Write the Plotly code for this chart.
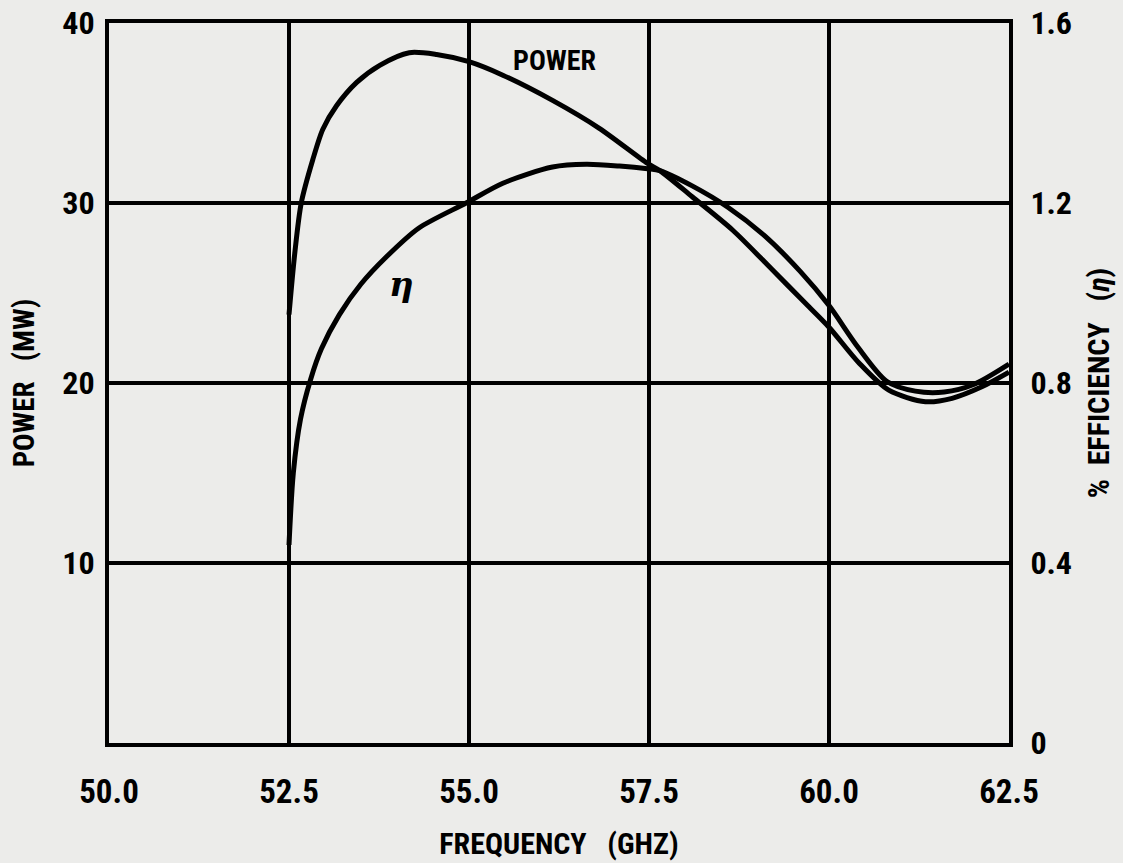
import plotly.graph_objects as go

# Frequency (GHz) and power (MW)
power_freq = [52.5, 52.58, 52.67, 52.83, 52.97, 53.16, 53.44, 53.76, 54.17, 54.55, 55.0,
              55.47, 56.16, 56.81, 57.48, 57.65, 58.1, 58.66, 59.21, 59.68, 60.0,
              60.42, 60.83, 61.34, 61.71, 62.13, 62.5]
power_mw = [23.8, 27.2, 30.0, 32.4, 34.1, 35.4, 36.7, 37.65, 38.35, 38.25, 37.85,
            37.1, 35.7, 34.15, 32.2, 31.8, 30.35, 28.5, 26.3, 24.4, 23.1,
            21.1, 19.6, 18.96, 19.15, 19.8, 20.6]

# Frequency (GHz) and % efficiency
eff_freq = [52.5, 52.56, 52.66, 52.8, 52.95, 53.2, 53.5, 53.85, 54.3, 54.96, 55.47,
            56.16, 56.63, 57.09, 57.48, 57.65, 58.1, 58.6, 59.1, 59.6, 60.0,
            60.4, 60.8, 61.2, 61.6, 62.0, 62.5]
eff_pct = [0.44, 0.60, 0.72, 0.808, 0.876, 0.952, 1.02, 1.08, 1.144, 1.2, 1.244,
           1.28, 1.286, 1.282, 1.276, 1.272, 1.238, 1.19, 1.128, 1.048, 0.972,
           0.88, 0.804, 0.782, 0.78, 0.796, 0.842]

x_ticks = [50.0, 52.5, 55.0, 57.5, 60.0, 62.5]
x_tick_text = ["50.0", "52.5", "55.0", "57.5", "60.0", "62.5"]
y_ticks = [10, 20, 30, 40]
y2_ticks = [0, 0.4, 0.8, 1.2, 1.6]
y2_tick_text = ["0", "0.4", "0.8", "1.2", "1.6"]

FONT = "Roboto Condensed, Roboto, Liberation Sans, sans-serif"
BG = "#ececea"

fig = go.Figure()
fig.add_trace(go.Scatter(x=power_freq, y=power_mw, mode="lines", name="POWER",
                         line=dict(color="black", width=5, shape="spline", smoothing=0.8),
                         yaxis="y"))
fig.add_trace(go.Scatter(x=eff_freq, y=eff_pct, mode="lines", name="η",
                         line=dict(color="black", width=5, shape="spline", smoothing=0.8),
                         yaxis="y2"))

fig.update_layout(
    width=1123, height=863,
    margin=dict(l=109, r=114, t=23, b=120),
    paper_bgcolor=BG, plot_bgcolor=BG,
    showlegend=False,
    font=dict(family=FONT, color="black", weight="bold"),
    xaxis=dict(range=[50, 62.5], tickvals=x_ticks, ticktext=x_tick_text, automargin=False,
               showgrid=True, gridcolor="black", gridwidth=4,
               showline=True, linecolor="black", linewidth=4, mirror=True,
               zeroline=False, ticks="outside", ticklen=16, tickcolor="rgba(0,0,0,0)",
               tickfont=dict(size=33, family=FONT, weight="bold"),
               title=dict(text="FREQUENCY   (GHZ)", standoff=24,
                          font=dict(size=30, family=FONT, weight="bold"))),
    yaxis=dict(range=[0, 40], tickvals=y_ticks, automargin=False,
               showgrid=True, gridcolor="black", gridwidth=4,
               showline=True, linecolor="black", linewidth=4, mirror=True,
               zeroline=False, ticks="outside", ticklen=4, tickcolor="rgba(0,0,0,0)",
               tickfont=dict(size=32, family=FONT, weight="bold"),
               title=dict(text="POWER   (MW)", standoff=20,
                          font=dict(size=29, family=FONT, weight="bold"))),
    yaxis2=dict(range=[0, 1.6], tickvals=y2_ticks, ticktext=y2_tick_text, automargin=False,
                overlaying="y", side="right", showgrid=False, zeroline=False,
                ticks="outside", ticklen=14, tickcolor="rgba(0,0,0,0)",
                tickfont=dict(size=32, family=FONT, weight="bold"),
                title=dict(text="%  EFFICIENCY   (<i>η</i>)", standoff=16,
                           font=dict(size=30, family=FONT, weight="bold"))),
)

fig.add_annotation(x=56.19, y=37.9, xref="x", yref="y", text="POWER", showarrow=False,
                   font=dict(size=28, family=FONT, weight="bold", color="black"))
fig.add_annotation(x=54.06, y=25.5, xref="x", yref="y", text="<i>η</i>", showarrow=False,
                   font=dict(size=34, family="DejaVu Serif, serif", color="black"))

fig.write_html("out.html", config={"displayModeBar": False},
               post_script="document.body.style.margin='0';")
